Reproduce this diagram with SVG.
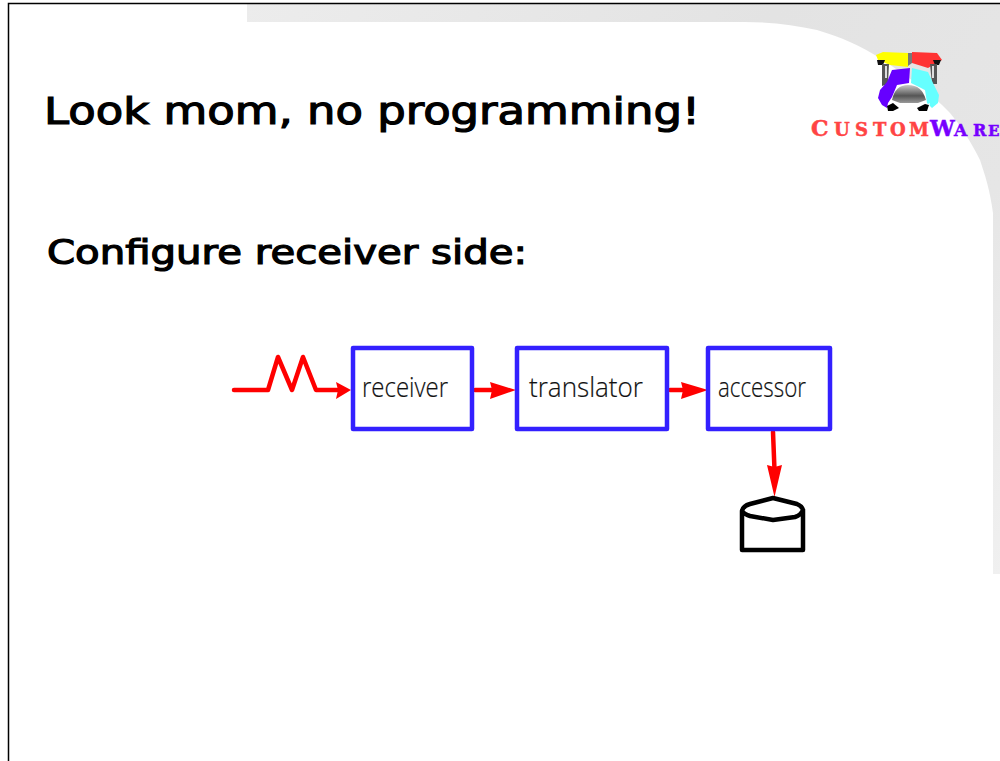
<svg xmlns="http://www.w3.org/2000/svg" width="1000" height="761" viewBox="0 0 1000 761">
<defs>
<linearGradient id="bg" gradientUnits="userSpaceOnUse" x1="247" y1="0" x2="1000" y2="574">
<stop offset="0" stop-color="#ececec"/><stop offset=".45" stop-color="#e3e3e3"/><stop offset=".75" stop-color="#e6e6e6"/><stop offset="1" stop-color="#f0f0f0"/>
</linearGradient>
<linearGradient id="nose" x1="0" y1="0" x2="0" y2="1">
<stop offset="0" stop-color="#c8c8c8"/><stop offset=".6" stop-color="#555"/><stop offset="1" stop-color="#999"/>
</linearGradient>
</defs>
<style>
.h{font-family:"DejaVu Sans","Liberation Sans",sans-serif;font-weight:400;fill:#000;stroke:#000;stroke-width:1.200}
.l{font-family:"Open Sans","Liberation Sans",sans-serif;font-weight:300;font-size:28px;fill:#111;stroke:#111;stroke-width:.2}
.box{fill:#fff;stroke:#3320ff;stroke-width:4.500;stroke-linejoin:round}
.wire{fill:none;stroke:#f00;stroke-width:4.500;stroke-linejoin:round;stroke-linecap:round}
.tip{fill:#f00}
.db{fill:none;stroke:#000;stroke-width:4.500;stroke-linejoin:round;stroke-linecap:round}
.logo{font-family:"DejaVu Serif","Liberation Serif",serif;font-weight:700;stroke-width:.5}
</style>
<rect width="1000" height="761" fill="#fff"/>
<path d="M247 4H1000V574H993V213C990 190 985 175 980 160C970 140 960 125 950 113C930 92 905 75 883 60C860 45 840 37 817 30C795 25 770 22 745 22H247Z" fill="url(#bg)"/>
<path d="M8.500 761V3.500H1000" fill="none" stroke="#000" stroke-width="1.500"/>
<text class="h" x="44" y="124" font-size="38" textLength="656" lengthAdjust="spacingAndGlyphs">Look mom, no programming!</text>
<text class="h" x="47" y="264" font-size="33" textLength="480" lengthAdjust="spacingAndGlyphs">Configure receiver side:</text>
<g id="connectors">
<path class="wire" d="M234 390H268L278 357L292 390L303 357L316 390H340"/>
<path class="tip" d="M351 390L336 382L338 390L336 399Z"/>
<path class="wire" d="M475 390H495"/>
<path class="tip" d="M516 390L490 382L492 390L490 399Z"/>
<path class="wire" d="M670 390H685"/>
<path class="tip" d="M708 390L681 382L683 390L681 399Z"/>
<path class="wire" d="M773 432L774.500 470"/>
<path class="tip" d="M774.500 497L767 465L774.500 467L782 465Z"/>
</g>
<g id="receiver"><rect class="box" x="353" y="348" width="119" height="81"/><text class="l" x="362" y="397" textLength="86" lengthAdjust="spacingAndGlyphs">receiver</text></g>
<g id="translator"><rect class="box" x="517" y="348" width="150" height="81"/><text class="l" x="529" y="397" textLength="114" lengthAdjust="spacingAndGlyphs">translator</text></g>
<g id="accessor"><rect class="box" x="708" y="348" width="122" height="81"/><text class="l" x="718" y="397" textLength="88" lengthAdjust="spacingAndGlyphs">accessor</text></g>
<g id="datastore">
<path class="db" d="M742 511V550H803V510Q802 506 797 504L773 498L750 504Q743 506 742 511Q744 514 750 516L773 520L795 517Q801 515 803 510"/>
</g>
<g id="logo">
<path d="M876 55L883 52L908 53V67L890 65L878 60Z" fill="#ff0"/>
<path d="M912 52L937 53L942 60L928 68L912 63Z" fill="#f33"/>
<path d="M908 53H912V63L908 66Z" fill="#777"/>
<path d="M877 60L885 60L883 65H878Z" fill="#111"/>
<path d="M933 60H941L939 65H935Z" fill="#111"/>
<path d="M882 64H889L888 84L882 86Z" fill="#555"/>
<path d="M930 64H937V84H932Z" fill="#555"/>
<path d="M885 66H887V78H885ZM932 66H934V78H932Z" fill="#ddd"/>
<path d="M892 70L910 68L909 83L897 85L892 97L888 103L887 108L882 105L878 98L880 90L887 82Z" fill="#60f"/>
<path d="M912 68L928 72L933 83L939 95L938 103L932 108L927 103L925 90L911 83Z" fill="#6ff"/>
<path d="M892 100Q895 85 908 85Q922 85 926 100L918 103H900Z" fill="url(#nose)"/>
<path d="M888 103L897 108H920L930 103L928 110L917 106H900L892 110Z" fill="#fff"/>
<path d="M887 106L893 103L899 108L893 111H888Z" fill="#000"/>
<path d="M917 108L925 104L929 105L927 111H919Z" fill="#000"/>
<text class="logo" y="136" fill="#f44" stroke="#f44"><tspan x="811" font-size="22">C</tspan><tspan x="834" font-size="18">U</tspan><tspan x="855" font-size="18">S</tspan><tspan x="873" font-size="18">T</tspan><tspan x="890" font-size="18">O</tspan><tspan x="909" font-size="18">M</tspan></text>
<text class="logo" y="136" fill="#70f" stroke="#70f"><tspan x="930" font-size="22">W</tspan><tspan x="954" font-size="17">A</tspan><tspan x="973" font-size="16">R</tspan><tspan x="988" font-size="15">E</tspan></text>
</g>
</svg>
